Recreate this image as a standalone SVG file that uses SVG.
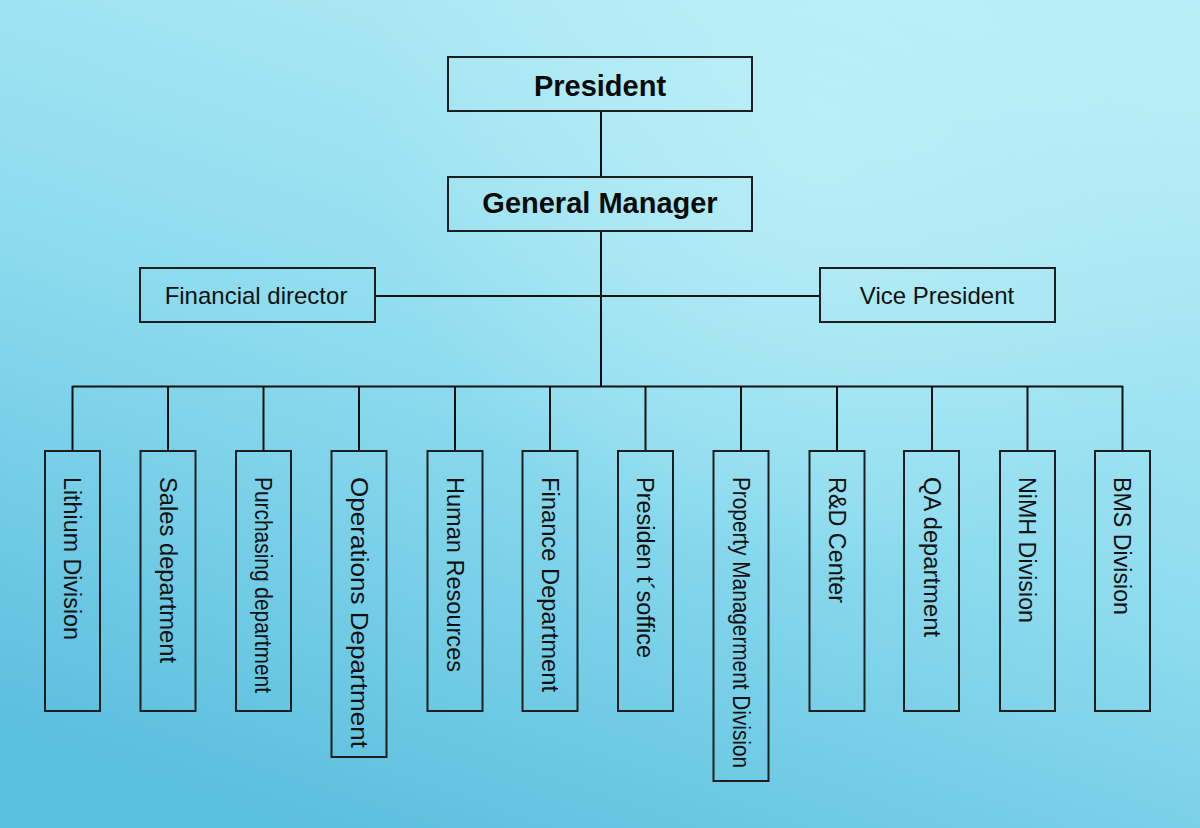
<svg xmlns="http://www.w3.org/2000/svg" width="1200" height="828" viewBox="0 0 1200 828">
  <defs>
    <linearGradient id="bg" x1="0.25" y1="1" x2="0.75" y2="0">
      <stop offset="0" stop-color="#5bbfde"/>
      <stop offset="0.5" stop-color="#8fdcef"/>
      <stop offset="1" stop-color="#b6edf6"/>
    </linearGradient>
    <radialGradient id="hl" cx="820" cy="120" r="450" gradientUnits="userSpaceOnUse">
      <stop offset="0" stop-color="#bdf0f7" stop-opacity="0.8"/>
      <stop offset="1" stop-color="#bdf0f7" stop-opacity="0"/>
    </radialGradient>
    <style>
      .box { fill: none; stroke: #1e1e1e; stroke-width: 2; }
      .conn { stroke: #111; stroke-width: 2; fill: none; }
      .title { font-family: "Liberation Sans", Arial, sans-serif; font-weight: bold; font-size: 29px; fill: #0a0a0a; text-anchor: middle; }
      .lbl { font-family: "Liberation Sans", Arial, sans-serif; font-size: 24px; fill: #111; text-anchor: middle; }
      .vl { font-family: "Liberation Sans", Arial, sans-serif; font-size: 23.5px; fill: #111; }
    </style>
  </defs>
  <rect x="0" y="0" width="1200" height="828" fill="url(#bg)"/>
  <rect x="0" y="0" width="1200" height="828" fill="url(#hl)"/>

  <g id="connectors">
    <path class="conn" d="M601 111V177"/>
    <path class="conn" d="M601 231V387"/>
    <path class="conn" d="M375 296H820"/>
    <path class="conn" d="M72.5 386.5H1123"/>
    <path class="conn" d="M72.5 386V451M168 386V451M263.5 386V451M359 386V451M455 386V451M550 386V451M645.5 386V451M741 386V451M837 386V451M932 386V451M1027.5 386V451M1122.5 386V451"/>
  </g>

  <g id="president">
    <rect class="box" x="448" y="57" width="304" height="54"/>
    <text class="title" x="600" y="96">President</text>
  </g>
  <g id="general-manager">
    <rect class="box" x="448" y="177" width="304" height="54"/>
    <text class="title" x="600" y="213">General Manager</text>
  </g>
  <g id="financial-director">
    <rect class="box" x="140" y="268" width="235" height="54"/>
    <text class="lbl" x="256" y="304">Financial director</text>
  </g>
  <g id="vice-president">
    <rect class="box" x="820" y="268" width="235" height="54"/>
    <text class="lbl" x="937" y="304">Vice President</text>
  </g>

  <g id="lithium-division">
    <rect class="box" x="45" y="451" width="55" height="260"/>
    <text class="vl" transform="translate(64,477) rotate(90)" textLength="163" lengthAdjust="spacingAndGlyphs">Lithium Division</text>
  </g>
  <g id="sales-department">
    <rect class="box" x="140.5" y="451" width="55" height="260"/>
    <text class="vl" transform="translate(159.5,477) rotate(90)" textLength="186" lengthAdjust="spacingAndGlyphs">Sales department</text>
  </g>
  <g id="purchasing-department">
    <rect class="box" x="236" y="451" width="55" height="260"/>
    <text class="vl" transform="translate(255,477) rotate(90)" textLength="216" lengthAdjust="spacingAndGlyphs">Purchasing department</text>
  </g>
  <g id="operations-department">
    <rect class="box" x="331.5" y="451" width="55" height="306"/>
    <text class="vl" transform="translate(350.5,477) rotate(90)" textLength="271" lengthAdjust="spacingAndGlyphs">Operations Department</text>
  </g>
  <g id="human-resources">
    <rect class="box" x="427.5" y="451" width="55" height="260"/>
    <text class="vl" transform="translate(446.5,477) rotate(90)" textLength="195" lengthAdjust="spacingAndGlyphs">Human Resources</text>
  </g>
  <g id="finance-department">
    <rect class="box" x="522.5" y="451" width="55" height="260"/>
    <text class="vl" transform="translate(541.5,477) rotate(90)" textLength="215" lengthAdjust="spacingAndGlyphs">Finance Department</text>
  </g>
  <g id="presidents-office">
    <rect class="box" x="618" y="451" width="55" height="260"/>
    <text class="vl" transform="translate(637,477) rotate(90)" textLength="181" lengthAdjust="spacingAndGlyphs">Presiden t´soffice</text>
  </g>
  <g id="property-management-division">
    <rect class="box" x="713.5" y="451" width="55" height="330"/>
    <text class="vl" transform="translate(732.5,477) rotate(90)" textLength="291" lengthAdjust="spacingAndGlyphs">Property Managerment Division</text>
  </g>
  <g id="rd-center">
    <rect class="box" x="809.5" y="451" width="55" height="260"/>
    <text class="vl" transform="translate(828.5,477) rotate(90)" textLength="126" lengthAdjust="spacingAndGlyphs">R&amp;D Center</text>
  </g>
  <g id="qa-department">
    <rect class="box" x="904" y="451" width="55" height="260"/>
    <text class="vl" transform="translate(923.5,477) rotate(90)" textLength="160" lengthAdjust="spacingAndGlyphs">QA department</text>
  </g>
  <g id="nimh-division">
    <rect class="box" x="1000" y="451" width="55" height="260"/>
    <text class="vl" transform="translate(1019,477) rotate(90)" textLength="146" lengthAdjust="spacingAndGlyphs">NiMH Division</text>
  </g>
  <g id="bms-division">
    <rect class="box" x="1095" y="451" width="55" height="260"/>
    <text class="vl" transform="translate(1114,477) rotate(90)" textLength="138" lengthAdjust="spacingAndGlyphs">BMS Division</text>
  </g>
</svg>
